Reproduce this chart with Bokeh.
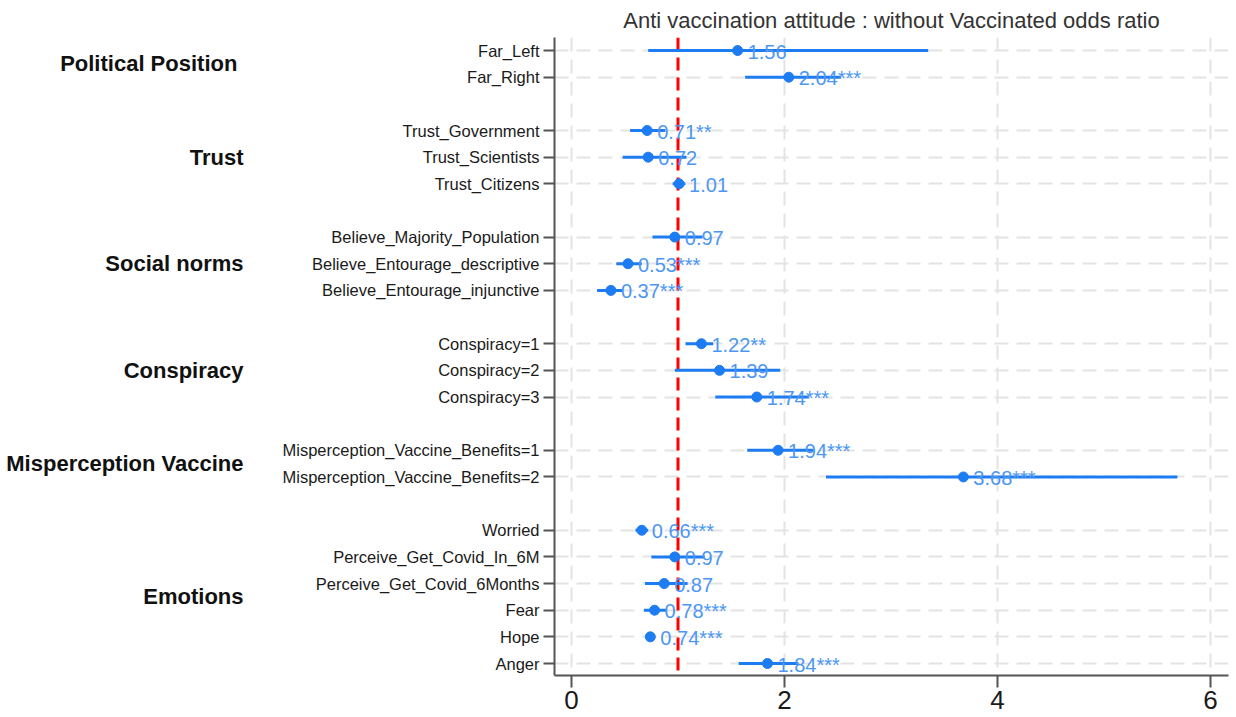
from bokeh.plotting import figure
from bokeh.models import Range1d, FixedTicker, LinearAxis, Span, ColumnDataSource
from bokeh.embed import file_html
from bokeh.resources import INLINE

# ---- data ----
title_text = "Anti vaccination attitude : without Vaccinated odds ratio"
groups = ["Political  Position", "Trust", "Social norms", "Conspiracy",
          "Misperception Vaccine", "Emotions"]
group_sizes = [2, 3, 3, 3, 2, 6]
variables = ["Far_Left", "Far_Right",
             "Trust_Government", "Trust_Scientists", "Trust_Citizens",
             "Believe_Majority_Population", "Believe_Entourage_descriptive",
             "Believe_Entourage_injunctive",
             "Conspiracy=1", "Conspiracy=2", "Conspiracy=3",
             "Misperception_Vaccine_Benefits=1", "Misperception_Vaccine_Benefits=2",
             "Worried", "Perceive_Get_Covid_In_6M", "Perceive_Get_Covid_6Months",
             "Fear", "Hope", "Anger"]
odds = [1.56, 2.04, 0.71, 0.72, 1.01, 0.97, 0.53, 0.37, 1.22, 1.39, 1.74,
        1.94, 3.68, 0.66, 0.97, 0.87, 0.78, 0.74, 1.84]
ci_low = [0.72, 1.63, 0.55, 0.48, 0.95, 0.76, 0.42, 0.24, 1.07, 0.97, 1.35,
          1.65, 2.39, 0.60, 0.75, 0.69, 0.68, 0.71, 1.57]
ci_high = [3.35, 2.53, 0.88, 1.08, 1.07, 1.23, 0.66, 0.48, 1.33, 1.96, 2.23,
           2.27, 5.69, 0.72, 1.25, 1.09, 0.89, 0.77, 2.13]
stars = ["", "***", "**", "", "", "", "***", "***", "**", "", "***",
         "***", "***", "***", "", "", "***", "***", "***"]
x_ticks = [0, 2, 4, 6]
reference_value = 1

# ---- row positions (one empty row between groups) ----
ys = []
centers = []
slot = 0
for size in group_sizes:
    members = list(range(slot, slot + size))
    ys += members
    centers.append(sum(members) / size)
    slot += size + 1

labels = [f"{v:.2f}{s}" for v, s in zip(odds, stars)]
src = ColumnDataSource(dict(y=ys, odds=odds, lo=ci_low, hi=ci_high, lab=labels))

FONT = "Liberation Sans"
BLUE = "#1e7cf2"
TEXT_BLUE = "#4d97f3"

p = figure(width=1236, height=717, output_backend="svg", toolbar_location=None,
           x_range=Range1d(-0.16, 6.17), y_range=Range1d(23.45, -0.49),
           min_border_left=554, min_border_right=8, min_border_top=37,
           min_border_bottom=42)
p.outline_line_color = None
p.background_fill_color = "white"
p.border_fill_color = "white"

p.title.text = title_text
p.title.align = "center"
p.title.vertical_align = "top"
p.title.text_font = FONT
p.title.text_font_size = "22px"
p.title.text_font_style = "normal"
p.title.text_color = "#333333"
p.title.standoff = 5

# axes
p.xaxis.ticker = FixedTicker(ticks=x_ticks)
p.yaxis.ticker = FixedTicker(ticks=ys)
p.yaxis.major_label_overrides = {y: n for y, n in zip(ys, variables)}
for ax in (p.xaxis[0], p.yaxis[0]):
    ax.axis_line_color = "#555555"
    ax.axis_line_width = 2
    ax.major_tick_line_color = "#555555"
    ax.major_tick_line_width = 2
    ax.major_tick_in = 0
    ax.minor_tick_line_color = None
    ax.major_label_text_font = FONT
    ax.major_label_text_color = "#1a1a1a"
p.xaxis.major_tick_out = 12
p.xaxis.major_label_text_font_size = "26px"
p.xaxis.major_label_standoff = 3
p.yaxis.major_tick_out = 11
p.yaxis.major_label_text_font_size = "16.5px"
p.yaxis.major_label_standoff = 4

group_axis = LinearAxis(ticker=FixedTicker(ticks=centers),
                        major_label_overrides={c: g for c, g in zip(centers, groups)},
                        axis_line_color=None, major_tick_line_color=None,
                        minor_tick_line_color=None, major_tick_out=0, major_tick_in=0,
                        major_label_text_font=FONT, major_label_text_font_size="22px",
                        major_label_text_font_style="bold",
                        major_label_text_color="#111111",
                        major_label_standoff=36)
p.add_layout(group_axis, "left")

# grid
p.xgrid.ticker = FixedTicker(ticks=x_ticks)
p.ygrid.ticker = FixedTicker(ticks=ys)
for g in (p.xgrid[0], p.ygrid[0]):
    g.grid_line_color = "#e3e3e3"
    g.grid_line_width = 2
    g.grid_line_dash = "14 8"

ref = Span(location=reference_value, dimension="height", line_color="#ff0000",
           line_width=3, line_dash="13 7", level="underlay")
p.add_layout(ref)

p.segment(x0="lo", y0="y", x1="hi", y1="y", source=src, line_color=BLUE, line_width=3)
p.scatter(x="odds", y="y", source=src, size=10, fill_color=BLUE, line_color=BLUE)
p.text(x="odds", y="y", text="lab", source=src, x_offset=10, y_offset=1,
       text_baseline="middle", text_align="left", text_font_size="20px",
       text_color=TEXT_BLUE, text_font={"value": FONT})

open("out.html", "w").write(file_html(p, INLINE))
